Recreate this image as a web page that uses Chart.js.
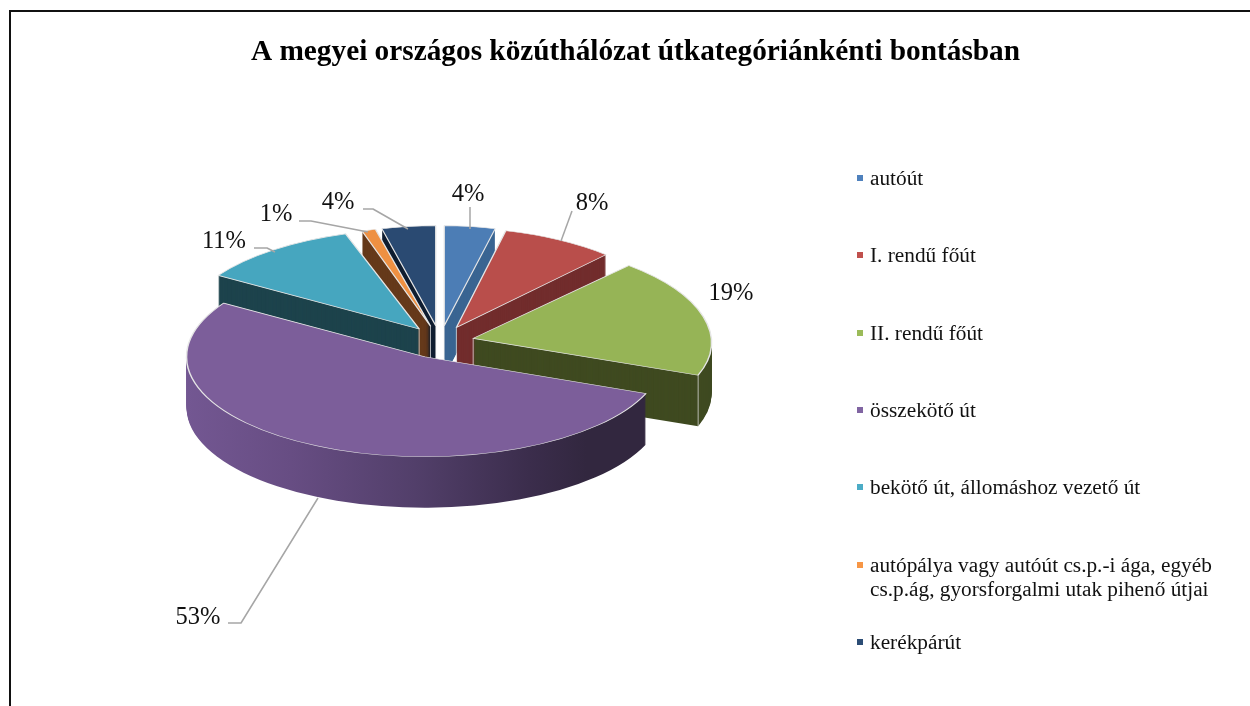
<!DOCTYPE html>
<html>
<head>
<meta charset="utf-8">
<style>
html,body{margin:0;padding:0;background:#fff;overflow:hidden}
#wrap{position:absolute;left:0;top:0;width:1250px;height:706px}
</style>
<script src="https://cdn.jsdelivr.net/npm/chart.js@4/dist/chart.umd.min.js"></script>
</head>
<body>
<div id="wrap"><canvas id="c" width="1250" height="706"></canvas></div>
<script>
const chartTitle = "A megyei országos közúthálózat útkategóriánkénti bontásban";
const categories = ["autóút","I. rendű főút","II. rendű főút","összekötő út","bekötő út, állomáshoz vezető út","autópálya vagy autóút cs.p.-i ága, egyéb cs.p.ág, gyorsforgalmi utak pihenő útjai","kerékpárút"];
const legendLines = [["autóút"],["I. rendű főút"],["II. rendű főút"],["összekötő út"],["bekötő út, állomáshoz vezető út"],["autópálya vagy autóút cs.p.-i ága, egyéb","cs.p.ág, gyorsforgalmi utak pihenő útjai"],["kerékpárút"]];
const shares = [4,8,19,53,11,1,4];
const topColors = ["#4c7db5","#b94e4b","#96b456","#7c5e9a","#46a6bf","#ee9042","#2a4a72"];
const wallColors = ["#3a6592","#722d2d","#3f4a20","#32273f","#1d434c","#65391a","#0f1d30"];
const legendColors = ["#4f81bd","#c0504d","#9bbb59","#8064a2","#4bacc6","#f79646","#2c4d75"];

const CX=440, CY=342, RX=238, RY=100, EX=34, EY=16.5, DEPTH=51;
const xSquash=[.86,.95,1,1,1,.93,.91];
const xShear=[0,.07,.1,0,0,0,0];
const drawOrder=[0,6,1,5,2,4,3];
const labelBoxes=[[468,195],[592,204],[731,294],[198,618],[224,242],[276,215],[338,203]];
const leaders=[
  [[470,207],[470,229]],
  [[572,211],[561,241]],
  null,
  [[228,623],[241,623],[318,498]],
  [[254,248],[267,248],[275,252]],
  [[299,221],[311,221],[368,232]],
  [[363,209],[373,209],[408,229]]
];
const legendY=[179,256,334,411,488,566,643];

function arcOpts(fill,stroke,bw){
  return {backgroundColor:fill,borderColor:stroke,borderWidth:bw,borderAlign:'center',borderRadius:0,offset:0,spacing:0,circular:true,borderDash:[],borderDashOffset:0,borderJoinStyle:'round'};
}
function drawSlice(ctx,arc,i,opts,dy){
  const mid=(arc.startAngle+arc.endAngle)/2;
  const sx=RX/arc.outerRadius*xSquash[i], sy=RY/arc.outerRadius;
  ctx.save();
  ctx.translate(CX+EX*Math.cos(mid),CY+EY*Math.sin(mid)+dy);
  ctx.transform(1,0,xShear[i],1,0,0);
  ctx.scale(sx,sy);
  ctx.translate(-arc.x,-arc.y);
  const a=Object.create(arc);
  a.options=opts;
  a.draw(ctx);
  ctx.restore();
}
const pie3d={
  id:'pie3d',
  afterLayout(chart){ chart.titleBlock.left=21; chart.titleBlock.right=1250; },
  beforeDraw(chart){
    const ctx=chart.ctx;
    ctx.save();
    ctx.fillStyle='#fff';ctx.fillRect(0,0,1250,706);
    ctx.strokeStyle='#111';ctx.lineWidth=2;
    ctx.beginPath();ctx.moveTo(10,706);ctx.lineTo(10,11);ctx.lineTo(1250,11);ctx.stroke();
    ctx.restore();
  },
  beforeDatasetsDraw(chart){
    const ctx=chart.ctx, arcs=chart.getDatasetMeta(0).data;
    for(const i of drawOrder){
      const arc=arcs[i];
      const mid=(arc.startAngle+arc.endAngle)/2;
      let fill=wallColors[i];
      if(i===3){
        const k=arc.outerRadius/RX, g=ctx.createLinearGradient(arc.x-RX*k,0,arc.x+RX*k,0);
        g.addColorStop(0,'#735792');g.addColorStop(.22,'#674d83');g.addColorStop(.48,'#523f6a');g.addColorStop(.72,'#3b2d4c');g.addColorStop(.84,'#32273f');g.addColorStop(1,'#32273f');
        fill=g;
      }
      const o=arcOpts(fill,fill,0);
      for(let d=DEPTH;d>=1;d--) drawSlice(ctx,arc,i,o,d);
      const tx=CX+EX*Math.cos(mid), ty=CY+EY*Math.sin(mid);
      ctx.save();
      ctx.strokeStyle='rgba(225,225,225,.75)';ctx.lineWidth=1;
      ctx.beginPath();ctx.moveTo(tx,ty);ctx.lineTo(tx,ty+DEPTH);
      if(i===2){
        const ey=ty+RY*Math.sin(arc.endAngle);
        const ex=tx+RX*xSquash[i]*Math.cos(arc.endAngle)+xShear[i]*RY*Math.sin(arc.endAngle);
        ctx.moveTo(ex,ey);ctx.lineTo(ex,ey+DEPTH);
      }
      ctx.stroke();ctx.restore();
      drawSlice(ctx,arc,i,arcOpts(topColors[i],'#e6e6e6',1.6),0);
    }
    return false;
  },
  afterDraw(chart){
    const ctx=chart.ctx;
    ctx.save();
    ctx.lineJoin='round';
    ctx.strokeStyle='#a6a6a6';ctx.lineWidth=1.5;
    leaders.forEach(l=>{
      if(!l) return;
      ctx.beginPath();l.forEach((p,j)=>j?ctx.lineTo(p[0],p[1]):ctx.moveTo(p[0],p[1]));ctx.stroke();
    });
    ctx.fillStyle='#111';ctx.textAlign='center';ctx.textBaseline='middle';
    ctx.font='24.5px "Liberation Serif"';
    shares.forEach((v,i)=>ctx.fillText(v+'%',labelBoxes[i][0],labelBoxes[i][1]));
    ctx.textAlign='left';ctx.font='21.3px "Liberation Serif"';
    legendLines.forEach((lines,i)=>{
      ctx.fillStyle=legendColors[i];
      ctx.fillRect(857,legendY[i]-4,6,6);
      ctx.fillStyle='#111';
      lines.forEach((t,j)=>ctx.fillText(t,870,legendY[i]+j*24.5));
    });
    ctx.restore();
  }
};
new Chart(document.getElementById('c'),{
  type:'pie',
  data:{labels:categories,datasets:[{data:shares,backgroundColor:topColors,borderColor:'#e6e6e6',borderWidth:1}]},
  plugins:[pie3d],
  options:{
    responsive:false,animation:false,
    layout:{padding:{bottom:120}},
    plugins:{
      legend:{display:false},
      tooltip:{enabled:false},
      title:{display:true,text:chartTitle,color:'#000',align:'center',
        font:{family:'"Liberation Serif"',size:29.3,weight:'bold'},
        padding:{top:35,bottom:10}}
    }
  }
});
</script>
</body>
</html>
